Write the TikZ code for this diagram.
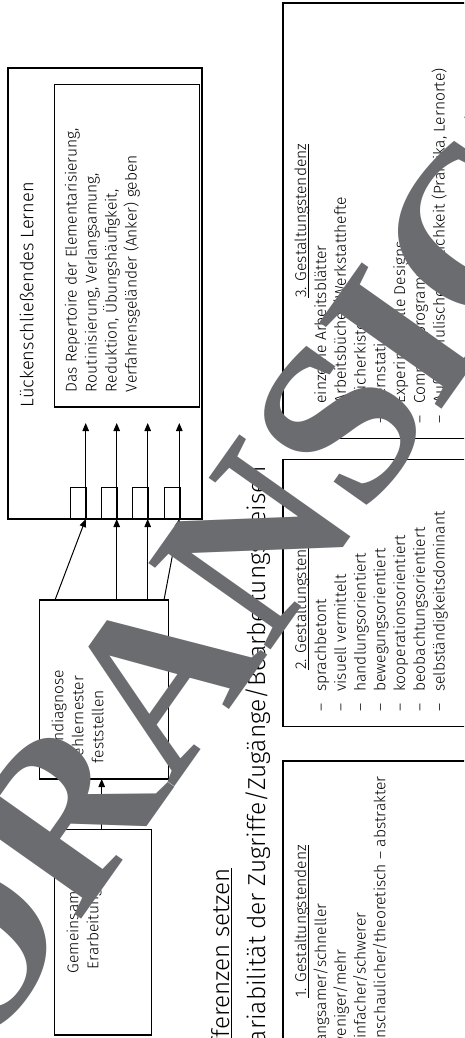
\documentclass[tikz,border=0pt]{standalone}
\usepackage{fontspec}
\IfFontExistsTF{Fira Sans Light}{\setmainfont{Fira Sans Light}}{\setmainfont{Fira Sans}}
\newfontfamily\wmfont{Liberation Serif}
\usetikzlibrary{arrows.meta}
\definecolor{wmgray}{HTML}{6B6C70}
\begin{document}
\begin{tikzpicture}[x=1pt,y=-1pt,
  frame/.style={draw=black, line width=1.1pt, inner sep=0pt, outer sep=0pt, anchor=north west},
  sq/.style={draw=black, line width=1pt, inner sep=0pt, outer sep=0pt, minimum width=16pt, minimum height=31.7pt, anchor=south west},
  vtxt/.style={rotate=90, inner sep=0pt, outer sep=0pt, font=\fontsize{15.6}{17}\selectfont},
  item/.style={vtxt, anchor=base west},
  conn/.style={line width=1pt, -{Triangle[length=8pt,width=6.5pt]}},
  uline/.style={line width=1pt},
]
\clip (0,0) rectangle (464,1038);
\fill[white] (0,0) rectangle (464,1038);

% ---------- left column ----------
\node[frame, minimum width=194pt, minimum height=451pt] (big) at (8,68) {};
\node[frame, minimum width=145.4pt, minimum height=322.7pt] (inner) at (54.3,84.3) {};
\node[vtxt, anchor=base west, font=\fontsize{18.2}{20}\selectfont] (title) at (33.3,407) {Lückenschließendes Lernen};
\node[item] (r1) at (76.7,392) {Das Repertoire der Elementarisierung,};
\node[item] (r2) at (96.7,392) {Routinisierung, Verlangsamung,};
\node[item] (r3) at (116.7,392) {Reduktion, Übungshäufigkeit,};
\node[item] (r4) at (136.7,392) {Verfahrensgeländer (Anker) geben};

\node[sq] (s1) at (70.7,519) {};
\node[sq] (s2) at (101.7,519) {};
\node[sq] (s3) at (132.7,519) {};
\node[sq] (s4) at (164.3,519) {};
\coordinate (t1) at (85.7,423);
\coordinate (t2) at (116.7,423);
\coordinate (t3) at (147.7,423);
\coordinate (t4) at (179.3,423);
\foreach \k in {1,2,3,4}{
  \draw[conn] ([xshift=-1pt]s\k.south east) -- (t\k);
}

\node[frame, minimum width=129.4pt, minimum height=179pt] (fehler) at (39.3,600) {};
\node[item] (f1) at (63.3,763) {Lerndiagnose};
\node[item] (f2) at (83.3,763) {Fehlernester};
\node[item] (f3) at (103.3,763) {feststellen};
\coordinate (c1) at (55,600);
\coordinate (c2) at (116.7,600);
\coordinate (c3) at (147.7,600);
\coordinate (c4) at (164,600);
\foreach \k in {1,2,3,4}{
  \draw[conn] (c\k) -- ([xshift=-1pt]s\k.south east);
}

\node[frame, minimum width=97.4pt, minimum height=205.7pt] (gem) at (54.3,829.3) {};
\node[item] (g1) at (78.3,973) {Gemeinsame};
\node[item] (g2) at (98.3,969) {Erarbeitung};
\coordinate (ga) at (101.7,829.3);
\draw[conn] (ga) -- (ga |- fehler.south);

% ---------- headings ----------
\node[vtxt, anchor=base east, font=\fontsize{24.2}{28}\selectfont] (h1) at (229.5,868) {Differenzen setzen};
\draw[line width=1.3pt] ([xshift=2pt]h1.base west) -- ([xshift=2pt]h1.base east);
\node[vtxt, anchor=base east, font=\fontsize{24.6}{28}\selectfont] (h2) at (265,466) {Variabilität der Zugriffe/Zugänge/Bearbeitungsweisen};

% ---------- right column ----------
\node[frame, minimum width=250pt, minimum height=435.5pt] (box3) at (283,3) {};
\node[vtxt, anchor=base] (hd3) at (306,220.75) {3. Gestaltungstendenz};
\draw[uline] ([xshift=2pt]hd3.base west) -- ([xshift=2pt]hd3.base east);
\foreach \t [count=\i from 0] in {einzelne Arbeitsblätter, Arbeitsbücher/Werkstatthefte, Bücherkiste, Lernstationen, Experimentelle Designs, Computerprogramme, {Außerschulische Wirklichkeit (Praktika, Lernorte)}}{
  \node[item] (c3d\i) at (326+19.75*\i,423.5) {–};
  \node[item] (c3t\i) at (326+19.75*\i,403.5) {\t};
}

\node[frame, minimum width=250pt, minimum height=267.3pt] (box2) at (283,459.3) {};
\node[vtxt, anchor=base] (hd2) at (306,593) {2. Gestaltungstendenz};
\draw[uline] ([xshift=2pt]hd2.base west) -- ([xshift=2pt]hd2.base east);
\foreach \t [count=\i from 0] in {sprachbetont, visuell vermittelt, handlungsorientiert, bewegungsorientiert, kooperationsorientiert, beobachtungsorientiert, selbständigkeitsdominant}{
  \node[item] (c2d\i) at (326+19.75*\i,711.6) {–};
  \node[item] (c2t\i) at (326+19.75*\i,691.6) {\t};
}

\node[frame, minimum width=250pt, minimum height=321pt] (box1) at (283,761) {};
\node[vtxt, anchor=base] (hd1) at (306,921.5) {1. Gestaltungstendenz};
\draw[uline] ([xshift=2pt]hd1.base west) -- ([xshift=2pt]hd1.base east);
\foreach \t [count=\i from 0] in {langsamer/schneller, weniger/mehr, einfacher/schwerer, anschaulicher/theoretisch – abstrakter}{
  \node[item] (c1d\i) at (326+19.75*\i,1067) {–};
  \node[item] (c1t\i) at (326+19.75*\i,1047) {\t};
}

% ---------- watermark ----------
\node[rotate=54.75, anchor=base west, inner sep=0pt, outer sep=0pt, text=wmgray, font=\wmfont\bfseries\fontsize{228.5}{228.5}\selectfont] (wm) at (-116.6,1199.3) {VORANSICHT};
\end{tikzpicture}
\end{document}
